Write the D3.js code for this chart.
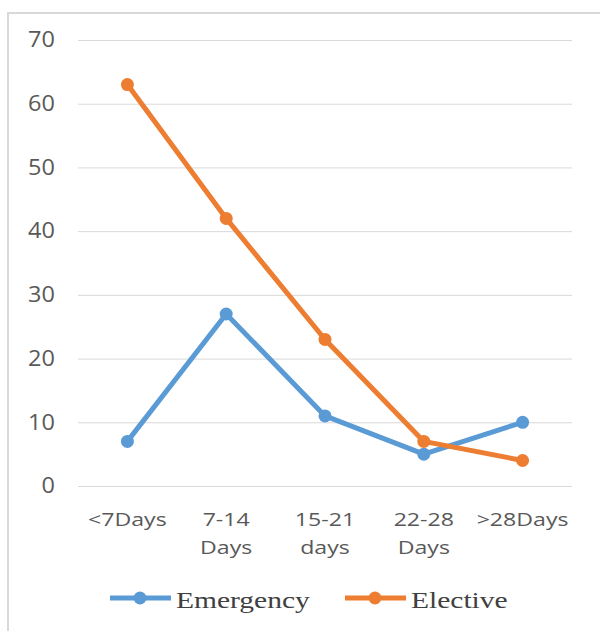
<!DOCTYPE html>
<html>
<head>
<meta charset="utf-8">
<script src="https://cdn.jsdelivr.net/npm/d3@7"></script>
<style>
  html, body { margin: 0; padding: 0; background: #fff; }
  svg { display: block; }
</style>
</head>
<body>
<svg id="chart" width="600" height="631"></svg>
<script>
// Length-of-stay groups and patient counts per admission type
const categories = [["<7Days"], ["7-14", "Days"], ["15-21", "days"], ["22-28", "Days"], [">28Days"]];
const categoryKeys = ["<7Days", "7-14 Days", "15-21 days", "22-28 Days", ">28Days"];
const emergency = [7, 27, 11, 5, 10];
const elective = [63, 42, 23, 7, 4];
const yTicks = [0, 10, 20, 30, 40, 50, 60, 70];
const seriesNames = ["Emergency", "Elective"];
const seriesColors = ["#5B9BD5", "#ED7D31"];

const svg = d3.select("#chart");

// Outer chart frame
svg.append("rect")
  .attr("x", 8).attr("y", 13)
  .attr("width", 620).attr("height", 640)
  .attr("fill", "none")
  .attr("stroke", "#d9d9d9")
  .attr("stroke-width", 2);

const plot = { left: 78, right: 572, top: 40, bottom: 486 };

const x = d3.scaleBand()
  .domain(categoryKeys)
  .range([plot.left, plot.right]);

const y = d3.scaleLinear()
  .domain([0, 70])
  .range([plot.bottom, plot.top]);

// Horizontal gridlines and value labels
const yAxis = d3.axisLeft(y).tickValues(yTicks).tickSize(-(plot.right - plot.left)).tickPadding(0);
const gy = svg.append("g")
  .attr("transform", `translate(${plot.left},0)`)
  .call(yAxis);
gy.select(".domain").remove();
gy.selectAll(".tick line").attr("stroke", "#d9d9d9").attr("stroke-width", 1);
gy.selectAll(".tick text")
  .attr("x", 0)
  .attr("transform", "translate(-23,0) scale(1.12,1)")
  .attr("fill", "#595959")
  .attr("font-family", "'Open Sans', sans-serif")
  .attr("font-size", 21);

// Category labels (wrapped on two lines where needed)
const xAxis = d3.axisBottom(x).tickSize(0).tickPadding(0);
const gx = svg.append("g")
  .attr("transform", `translate(0,${plot.bottom})`)
  .call(xAxis);
gx.select(".domain").remove();
gx.selectAll(".tick text").each(function(d, i) {
  const t = d3.select(this);
  t.text(null)
    .attr("fill", "#595959")
    .attr("font-family", "'Open Sans', sans-serif")
    .attr("font-size", 18.5)
    .attr("transform", "scale(1.25,1)")
    .attr("y", 0)
    .attr("dy", null);
  categories[i].forEach((line, j) => {
    t.append("tspan")
      .attr("x", 0)
      .attr("y", 40 + j * 28)
      .text(line);
  });
});

// Series lines and markers
const series = [emergency, elective];
const line = d3.line()
  .x((d, i) => x(categoryKeys[i]) + x.bandwidth() / 2)
  .y(d => y(d));

series.forEach((values, s) => {
  const g = svg.append("g");
  g.append("path")
    .datum(values)
    .attr("d", line)
    .attr("fill", "none")
    .attr("stroke", seriesColors[s])
    .attr("stroke-width", 5)
    .attr("stroke-linejoin", "round");
  g.selectAll("circle")
    .data(values)
    .join("circle")
    .attr("cx", (d, i) => x(categoryKeys[i]) + x.bandwidth() / 2)
    .attr("cy", d => y(d))
    .attr("r", 6.5)
    .attr("fill", seriesColors[s]);
});

// Legend
const legendX = [110, 345];
seriesNames.forEach((name, s) => {
  const lg = svg.append("g").attr("transform", `translate(${legendX[s]},598)`);
  lg.append("line")
    .attr("x1", 0).attr("x2", 61)
    .attr("stroke", seriesColors[s])
    .attr("stroke-width", 5);
  lg.append("circle")
    .attr("cx", 30).attr("r", 6.5)
    .attr("fill", seriesColors[s]);
  lg.append("text")
    .attr("x", 0).attr("y", 0)
    .attr("transform", "translate(66,10) scale(1.23,1)")
    .attr("fill", "#404040")
    .attr("font-family", "'Liberation Serif', 'Times New Roman', serif")
    .attr("font-size", 24)
    .text(name);
});
</script>
</body>
</html>
